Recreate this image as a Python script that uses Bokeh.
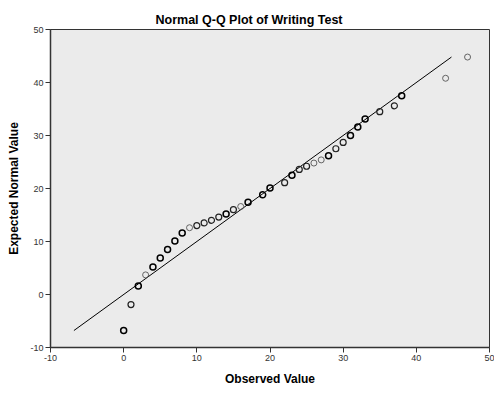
from bokeh.plotting import figure
from bokeh.models import Range1d, FixedTicker, Title, CustomJSTickFormatter
from bokeh.embed import file_html
from bokeh.resources import INLINE

# Observed writing-test scores and their expected normal values
observed = [0, 1, 2, 3, 4, 5, 6, 7, 8, 9, 10, 11, 12, 13, 14, 15, 16, 17,
            19, 20, 22, 23, 24, 25, 26, 27, 28, 29, 30, 31, 32, 33, 35, 37,
            38, 44, 47]
expected = [-6.8, -1.9, 1.6, 3.7, 5.2, 6.9, 8.5, 10.1, 11.6, 12.6, 13.0, 13.5,
            14.0, 14.6, 15.2, 16.0, 16.6, 17.4, 18.8, 20.1, 21.1, 22.5, 23.6,
            24.2, 24.8, 25.4, 26.2, 27.5, 28.7, 30.0, 31.6, 33.1, 34.5, 35.6,
            37.5, 40.8, 44.8]
# number of cases sharing each value (ties overplot and look bolder)
cases = [3, 2, 3, 1, 3, 3, 3, 3, 3, 1, 2, 2, 2, 2, 3, 2, 1, 3,
         3, 3, 2, 3, 2, 2, 1, 1, 3, 2, 2, 3, 3, 3, 2, 2,
         3, 1, 1]
ref_line = [-6.8, 44.8]
ticks = [-10, 0, 10, 20, 30, 40, 50]

p = figure(width=494, height=394, output_backend="svg", toolbar_location=None,
           x_range=Range1d(-10, 50), y_range=Range1d(-10, 50),
           min_border_left=50, min_border_right=5, min_border_top=29,
           min_border_bottom=47)

p.background_fill_color = "#EBEBEB"
p.border_fill_color = "white"
p.outline_line_color = "#333333"
p.outline_line_width = 1
p.xgrid.visible = False
p.ygrid.visible = False

p.add_layout(Title(text="Normal Q-Q Plot of Writing Test", align="left",
                   offset=105, text_font="Liberation Sans",
                   text_font_size="12.5px", text_font_style="bold",
                   text_color="black", standoff=5), "above")

for ax in (p.xaxis[0], p.yaxis[0]):
    ax.ticker = FixedTicker(ticks=ticks)
    ax.formatter = CustomJSTickFormatter(code="return String(tick);")
    ax.minor_tick_line_color = None
    ax.major_tick_in = 0
    ax.major_tick_out = 5
    ax.major_tick_line_color = "#333333"
    ax.axis_line_color = "#333333"
    ax.axis_line_width = 1.5
    ax.major_label_text_font = "Liberation Sans"
    ax.major_label_text_font_size = "9px"
    ax.major_label_text_color = "#333333"
    ax.axis_label_text_font = "Liberation Sans"
    ax.axis_label_text_font_size = "12px"
    ax.axis_label_text_font_style = "bold"
    ax.axis_label_text_color = "black"

p.xaxis.axis_label = "Observed Value"
p.yaxis.axis_label = "Expected Normal Value"
p.xaxis.major_label_standoff = 2
p.xaxis.axis_label_standoff = 8
p.yaxis.major_label_standoff = 2
p.yaxis.axis_label_standoff = 6

p.line(ref_line, ref_line, line_color="black", line_width=1)

widths = [0.9 if c == 1 else (1.2 if c == 2 else 1.5) for c in cases]
colors = ["#555555" if c == 1 else ("#222222" if c == 2 else "black")
          for c in cases]
p.scatter(observed, expected, marker="circle", size=6, fill_color=None,
          line_color=colors, line_width=widths)

open("out.html", "w").write(file_html(p, INLINE))
